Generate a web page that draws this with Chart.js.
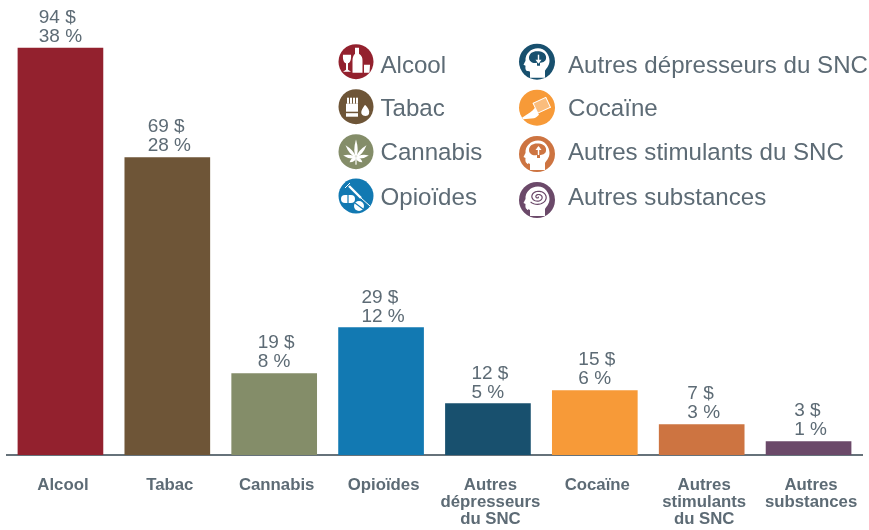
<!DOCTYPE html>
<html lang="fr">
<head>
<meta charset="utf-8">
<title>Coûts par substance</title>
<script src="https://cdn.jsdelivr.net/npm/chart.js@4"></script>
<style>
  html, body { margin: 0; padding: 0; background: #fff; }
  canvas { display: block; }
</style>
</head>
<body>
<canvas id="chart" width="869" height="530"></canvas>
<script>
const categories = ['Alcool', 'Tabac', 'Cannabis', 'Opioïdes', ['Autres', 'dépresseurs', 'du SNC'], 'Cocaïne', ['Autres', 'stimulants', 'du SNC'], ['Autres', 'substances']];
const barValues = [94, 68.7, 18.8, 29.4, 11.9, 14.9, 7, 3.1];
const dollarLabels = ['94 $', '69 $', '19 $', '29 $', '12 $', '15 $', '7 $', '3 $'];
const percentLabels = ['38 %', '28 %', '8 %', '12 %', '5 %', '6 %', '3 %', '1 %'];
const barColors = ['#93212e', '#6e5537', '#848d69', '#1279b2', '#18506e', '#f79a38', '#cd7441', '#6b4969'];
const legendNames = ['Alcool', 'Tabac', 'Cannabis', 'Opioïdes', 'Autres dépresseurs du SNC', 'Cocaïne', 'Autres stimulants du SNC', 'Autres substances'];
const iconTypes = ['alcohol', 'tobacco', 'leaf', 'pills', 'down', 'powder', 'up', 'spiral'];

const textColor = '#5d6b75';
const fontName = '"Liberation Sans", Arial, sans-serif';
const HEAD = 'M-7 16L-7 10C-8 9-10 9.8-11 8.5C-12 7-11.5 5-11.5 4L-13.5 3L-11.5-1C-12-8-6-13.5 1-13.5C8-13.5 12.5-7 12.5-1C12.5 4 9 7 8 9L8 16Z';

function drawIcon(ctx, type, color, cx, cy, r) {
  ctx.save();
  ctx.translate(cx, cy);
  ctx.fillStyle = color;
  ctx.beginPath();
  ctx.arc(0, 0, r, 0, Math.PI * 2);
  ctx.fill();
  ctx.clip();
  ctx.fillStyle = '#fff';
  ctx.strokeStyle = '#fff';
  ctx.lineWidth = 1;

  if (type === 'alcohol') {
    ctx.fill(new Path2D('M-1-14L3-14L3-8C6-6 6.5-4 6.5-1L6.5 11L-3.5 11L-3.5-1C-3.5-4-3-6-1-8Z'));
    ctx.fill(new Path2D('M-13-7L-5-7C-4.5-2-6 1-8 1.5L-8 8L-5 10L-13 10L-10 8L-10 1.5C-12 1-13.5-2-13-7Z'));
    ctx.fill(new Path2D('M8 3L14 3L13.5 11L8 11Z'));
  } else if (type === 'tobacco') {
    ctx.fillRect(-10, -3, 12, 13);
    for (let i = 0; i < 4; i++) ctx.fillRect(-9 + i * 3, -9, 2, 6);
    ctx.fillStyle = color;
    ctx.fillRect(-10, 5, 12, 1.5);
    ctx.fillStyle = '#fff';
    ctx.fill(new Path2D('M9-2C12 1 14 4 13 7C12 10 7 10 5.5 7C4.5 4 7 1 9-2Z'));
  } else if (type === 'leaf') {
    const angles = [0, 40, 80, -40, -80, 125, -125];
    const sizes = [14, 12.5, 10, 12.5, 10, 6, 6];
    angles.forEach((a, i) => {
      ctx.save();
      ctx.translate(0, 6);
      ctx.rotate(a * Math.PI / 180);
      ctx.beginPath();
      ctx.moveTo(0, 0);
      ctx.quadraticCurveTo(3.4, -sizes[i] * 0.5, 0, -sizes[i] * 1.3);
      ctx.quadraticCurveTo(-3.4, -sizes[i] * 0.5, 0, 0);
      ctx.fill();
      ctx.restore();
    });
    ctx.fillRect(-0.6, 6, 1.2, 7);
  } else if (type === 'pills') {
    ctx.lineWidth = 2.4;
    ctx.beginPath(); ctx.moveTo(-7, -10); ctx.lineTo(5, 2); ctx.stroke();
    ctx.lineWidth = 1;
    ctx.beginPath(); ctx.moveTo(-11, -8); ctx.lineTo(-6, -13); ctx.moveTo(5, 2); ctx.lineTo(14, 10); ctx.stroke();
    ctx.beginPath(); ctx.roundRect(-15, -1, 14, 8, 4); ctx.fill();
    ctx.beginPath(); ctx.arc(3, 10, 5, 0, Math.PI * 2); ctx.fill();
    ctx.strokeStyle = color;
    ctx.lineWidth = 1.2;
    ctx.beginPath(); ctx.moveTo(-1, 7); ctx.lineTo(7, 13); ctx.stroke();
    ctx.beginPath(); ctx.moveTo(-8, -1); ctx.lineTo(-8, 7); ctx.stroke();
  } else if (type === 'powder') {
    ctx.fill(new Path2D('M-15 10C-9 6-5 4-2 0L2 7C0 9-1 10-3 10.5L-14 11.5Z'));
    ctx.save();
    ctx.translate(5, -2);
    ctx.rotate(-25 * Math.PI / 180);
    ctx.strokeRect(-7, -6, 14, 11);
    ctx.globalAlpha = 0.35;
    ctx.fillRect(-7, -6, 14, 11);
    ctx.restore();
  } else {
    ctx.fill(new Path2D(HEAD));
    ctx.fillStyle = color;
    ctx.strokeStyle = color;
    if (type === 'spiral') {
      ctx.lineWidth = 1.2;
      ctx.beginPath();
      for (let a = 0; a < 15; a += 0.2) {
        const s = 0.65 * a;
        const x = 1 + s * Math.cos(a);
        const y = -3 + s * 0.8 * Math.sin(a);
        if (a === 0) ctx.moveTo(x, y); else ctx.lineTo(x, y);
      }
      ctx.stroke();
    } else {
      ctx.fill(new Path2D('M-8-4C-8-9-3-11 1-10.5C6-11 10-7 9-3C8.5 0 5 1 3 1L3 4L0 4L0 1C-4 2-8 0-8-4Z'));
      ctx.fillStyle = '#fff';
      ctx.fillRect(0.8, -7, 1.4, 8);
      ctx.beginPath();
      if (type === 'down') {
        ctx.moveTo(-1.5, -2); ctx.lineTo(4.5, -2); ctx.lineTo(1.5, 2);
      } else {
        ctx.moveTo(-1.5, -4); ctx.lineTo(4.5, -4); ctx.lineTo(1.5, -8);
      }
      ctx.fill();
    }
  }
  ctx.restore();
}

const valueLabels = {
  id: 'valueLabels',
  afterDatasetsDraw(chart) {
    const ctx = chart.ctx;
    const bars = chart.getDatasetMeta(0).data;
    ctx.save();
    ctx.font = '19px ' + fontName;
    ctx.fillStyle = textColor;
    ctx.textAlign = 'left';
    ctx.textBaseline = 'alphabetic';
    bars.forEach((bar, i) => {
      const w = Math.max(ctx.measureText(dollarLabels[i]).width, ctx.measureText(percentLabels[i]).width);
      const x = bar.x - w / 2 + (i === 0 ? 0 : 2);
      const lift = i === 0 || i === 3 || i === 5 ? 6 : (i === 4 ? 5 : 7);
      ctx.fillText(dollarLabels[i], x, bar.y - lift - 19);
      ctx.fillText(percentLabels[i], x, bar.y - lift);
    });
    ctx.restore();
  }
};

const iconLegend = {
  id: 'iconLegend',
  afterDraw(chart) {
    const ctx = chart.ctx;
    const leftIconY = [61.7, 106.7, 151.7, 196];
    const rightIconY = [61.7, 107.7, 154, 200];
    const baselines = [72.5, 115.5, 160, 205];
    ctx.save();
    ctx.font = '24.1px ' + fontName;
    ctx.textAlign = 'left';
    ctx.textBaseline = 'alphabetic';
    legendNames.forEach((name, i) => {
      const row = i % 4;
      const left = i < 4;
      drawIcon(ctx, iconTypes[i], barColors[i], left ? 356 : 537, left ? leftIconY[row] : rightIconY[row], left ? 17.5 : 18);
      ctx.fillStyle = textColor;
      ctx.fillText(name, left ? 380.5 : 568, baselines[row]);
    });
    ctx.restore();
  }
};

new Chart(document.getElementById('chart'), {
  type: 'bar',
  data: {
    labels: categories,
    datasets: [{
      data: barValues,
      backgroundColor: barColors,
      barThickness: 85,
      borderWidth: 0
    }]
  },
  options: {
    responsive: false,
    animation: false,
    layout: { padding: { left: 7, right: 7, top: 22, bottom: 0 } },
    plugins: { legend: { display: false }, tooltip: { enabled: false } },
    scales: {
      x: {
        z: 1,
        grid: { drawOnChartArea: false, drawTicks: false },
        border: { color: '#66727a', width: 2 },
        afterFit(scale) {
          scale.height = 75;
          scale.paddingLeft = 0;
          scale.paddingRight = 0;
        },
        ticks: {
          autoSkip: false,
          maxRotation: 0,
          minRotation: 0,
          padding: 22,
          labelOffset: 2.5,
          color: textColor,
          font: { family: fontName, size: 16.8, weight: 'bold', lineHeight: 1.01 }
        }
      },
      y: { display: false, min: 0, max: 100 }
    }
  },
  plugins: [valueLabels, iconLegend]
});
</script>
</body>
</html>
